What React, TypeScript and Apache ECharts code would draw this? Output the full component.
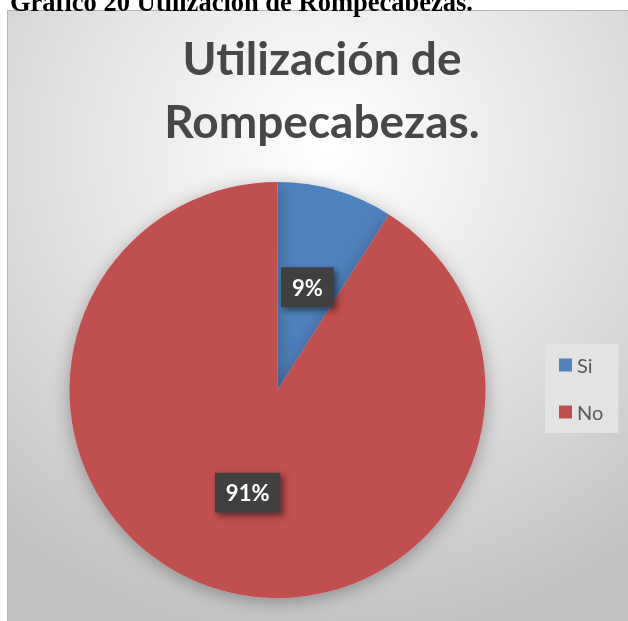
import React, { useEffect, useRef } from "react";
import * as echarts from "echarts";

const captionText = "Gráfico 20 Utilización de Rompecabezas.";
const chartTitle = "Utilización de\nRompecabezas.";
const categories = ["Si", "No"];
const values = [9, 91];
const sliceColors = ["#4f81bd", "#c0504d"];

export default function App() {
  const ref = useRef<HTMLDivElement>(null);
  useEffect(() => {
    if (!ref.current) return;
    const chart = echarts.init(ref.current, null, { renderer: "svg" });
    chart.setOption({
      animation: false,
      graphic: [
        {
          type: "rect",
          z: -10,
          shape: { x: 7.5, y: 10.5, width: 640, height: 620 },
          style: {
            fill: new echarts.graphic.RadialGradient(0.5, 0.22, 0.8, [
              { offset: 0, color: "#ffffff" },
              { offset: 0.45, color: "#e6e6e6" },
              { offset: 1, color: "#c2c2c2" },
            ]),
            stroke: "#b5b5b5",
            lineWidth: 1,
          },
        },
        {
          type: "text",
          z: 5,
          style: {
            text: captionText,
            x: 10,
            y: 15,
            textVerticalAlign: "bottom",
            font: "bold 26.5px 'Liberation Serif', 'Times New Roman', serif",
            fill: "#000000",
          },
        },
        {
          type: "text",
          z: 5,
          style: {
            text: chartTitle,
            x: 322,
            y: 26,
            textAlign: "center",
            textVerticalAlign: "top",
            font: "bold 46px Lato, 'Noto Sans', sans-serif",
            lineHeight: 63,
            fill: "#474747",
          },
        },
      ],
      legend: {
        orient: "vertical",
        left: 545,
        top: 344,
        data: categories,
        icon: "rect",
        itemWidth: 13,
        itemHeight: 13,
        itemGap: 27,
        padding: [11, 15, 11, 14],
        backgroundColor: "#e3e3e3",
        textStyle: { fontSize: 20, color: "#595959", fontFamily: "Lato" },
        selectedMode: false,
      },
      series: [
        {
          type: "pie",
          center: [277.5, 390],
          radius: 208,
          startAngle: 90,
          clockwise: true,
          emphasis: { disabled: true },
          itemStyle: {
            shadowBlur: 18,
            shadowColor: "rgba(0,0,0,0.3)",
            shadowOffsetY: 4,
          },
          label: {
            show: true,
            position: "inside",
            formatter: (p: any) => Math.round(p.percent) + "%",
            color: "#ffffff",
            fontFamily: "Lato",
            fontWeight: "bold",
            fontSize: 22,
            backgroundColor: "#404040",
            padding: [9, 11, 9, 11],
            shadowBlur: 6,
            shadowOffsetX: 3,
            shadowOffsetY: 3,
            shadowColor: "rgba(0,0,0,0.5)",
          },
          labelLine: { show: false },
          data: categories.map((c, i) => ({
            name: c,
            value: values[i],
            itemStyle: { color: sliceColors[i] },
          })),
        },
      ],
    });
    return () => chart.dispose();
  }, []);
  return (
    <div
      ref={ref}
      style={{ position: "fixed", left: 0, top: 0, width: 628, height: 621 }}
    />
  );
}
